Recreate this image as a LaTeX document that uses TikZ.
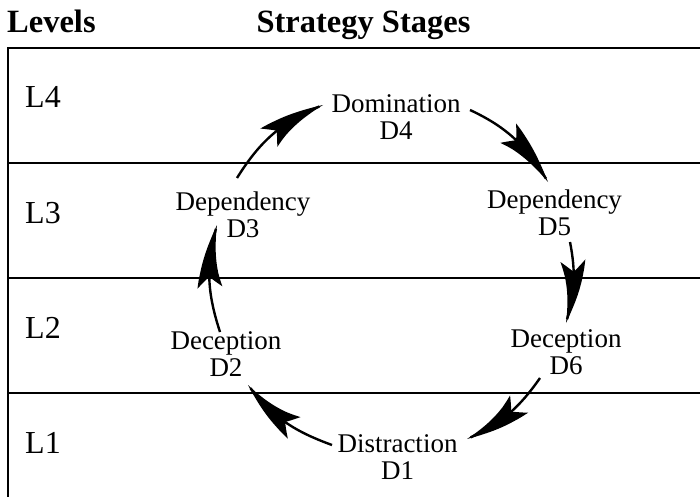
\documentclass[tikz,border=0pt]{standalone}
\usepackage{fontspec}
\setmainfont{Liberation Serif}
\usetikzlibrary{arrows.meta,bending,calc}
\pgfdeclarearrow{
  name = DHead,
  setup code = {
    \pgfarrowssettipend{0pt}
    \pgfarrowssetbackend{-72pt}
    \pgfarrowssetlineend{-4pt}
    \pgfarrowshullpoint{0pt}{0pt}
    \pgfarrowshullpoint{-72pt}{12.5pt}
    \pgfarrowshullpoint{-72pt}{-12.5pt}
  },
  drawing code = {
    \pgfpathmoveto{\pgfqpoint{0pt}{0pt}}
    \pgfpathcurveto{\pgfqpoint{-12pt}{2pt}}{\pgfqpoint{-34pt}{5.6pt}}{\pgfqpoint{-54pt}{9pt}}
    \pgfpathlineto{\pgfqpoint{-72pt}{12.5pt}}
    \pgfpathlineto{\pgfqpoint{-59pt}{0pt}}
    \pgfpathlineto{\pgfqpoint{-72pt}{-12.5pt}}
    \pgfpathlineto{\pgfqpoint{-54pt}{-9pt}}
    \pgfpathcurveto{\pgfqpoint{-34pt}{-5.6pt}}{\pgfqpoint{-12pt}{-2pt}}{\pgfqpoint{0pt}{0pt}}
    \pgfpathclose
    \pgfusepathqfill
  }
}
\begin{document}
\begin{tikzpicture}[x=1pt,y=1pt,
  frameline/.style={line width=1.8pt,draw=black},
  stagearrow/.style={line width=2.4pt,-{DHead[bend]}},
  stage/.style={anchor=north,inner sep=0pt,align=center,font=\fontsize{27}{27}\selectfont},
  lvl/.style={anchor=base west,inner sep=0pt,font=\fontsize{32}{32}\selectfont},
  header/.style={inner sep=0pt,font=\fontsize{32.5}{32.5}\selectfont\bfseries}]
\useasboundingbox (0,0) rectangle (700,496);
% frame and level bands
\draw[frameline] (8,-5) rectangle (705,448);
\draw[frameline] (8,333) -- (705,333);
\draw[frameline] (8,218) -- (705,218);
\draw[frameline] (8,103) -- (705,103);
% headers
\node[header,anchor=base west] (levels) at (7,463) {Levels};
\node[header,anchor=base] (stages) at (363.5,463) {Strategy Stages};
% level labels
\node[lvl] (l4) at (25,388) {L4};
\node[lvl] (l3) at (25,273) {L3};
\node[lvl] (l2) at (25,158) {L2};
\node[lvl] (l1) at (25,43) {L1};
% stages
\node[stage] (d4) at (396,401.4) {Domination\\D4};
\node[stage] (d5) at (554.5,306.4) {Dependency\\D5};
\node[stage] (d6) at (566,166.4) {Deception\\D6};
\node[stage] (d1) at (397.5,61.4) {Distraction\\D1};
\node[stage] (d2) at (226,164.4) {Deception\\D2};
\node[stage] (d3) at (243,304.4) {Dependency\\D3};
% cycle arrows
\draw[stagearrow] ($(d3.north)+(-6,13.6)$) to[out=58,in=202] ($(d4.north)+(-73,-10.4)$);
\draw[stagearrow] ($(d4.north)+(74,-15.4)$) to[out=-25,in=121] ($(d5.north)+(-6.5,7.6)$);
\draw[stagearrow] ($(d5.north)+(15.5,-52.4)$) to[out=-79,in=74] ($(d6.north)+(0,6.6)$);
\draw[stagearrow] ($(d6.north)+(-26,-48.4)$) to[out=-125,in=24] ($(d1.north)+(69.5,-4.4)$);
\draw[stagearrow] ($(d1.north)+(-65.5,-10.4)$) to[out=160,in=-53] ($(d2.north)+(22,-53.4)$);
\draw[stagearrow] ($(d2.north)+(-6,-0.4)$) to[out=108,in=254] ($(d3.north)+(-26,-33.4)$);
\end{tikzpicture}
\end{document}
